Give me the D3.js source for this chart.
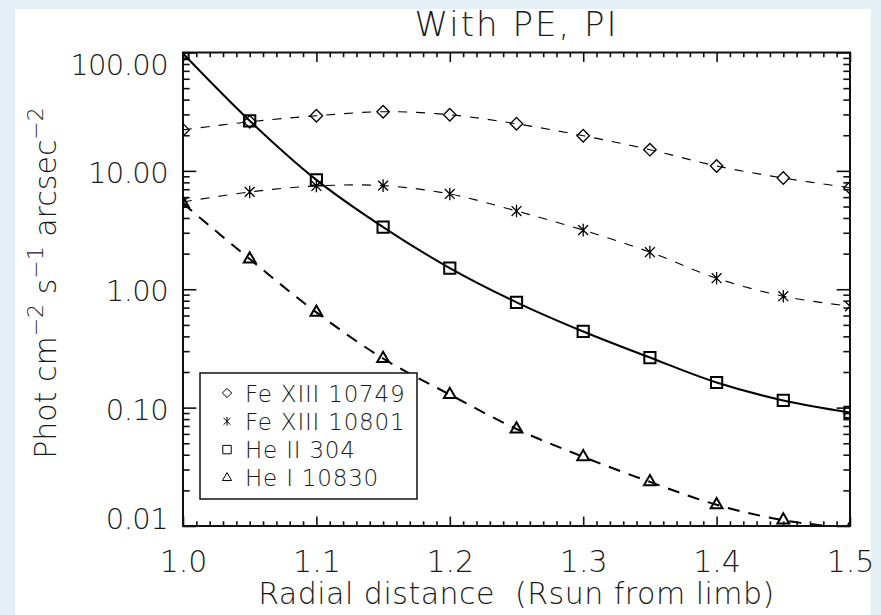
<!DOCTYPE html>
<html>
<head>
<meta charset="utf-8">
<script src="https://cdn.jsdelivr.net/npm/d3@7"></script>
<style>
  html, body { margin: 0; padding: 0; background: #e4eff6; }
  svg { display: block; }
  text { font-family: "DejaVu Sans", "Liberation Sans", sans-serif; font-weight: 200; fill: #1a1a1a; }
  .axis line { stroke: #111; stroke-width: 1.6; }
</style>
</head>
<body>
<svg id="chart" width="881" height="615"></svg>
<script>
// radial distance, Rsun from limb
var radius = [1.00, 1.05, 1.10, 1.15, 1.20, 1.25, 1.30, 1.35, 1.40, 1.45, 1.50];

// intensities, phot cm-2 s-1 arcsec-2
var feXIII10749 = [22.2, 26.0, 29.2, 31.6, 29.8, 25.0, 19.8, 15.1, 11.0, 8.7, 7.2];
var feXIII10801 = [5.46, 6.64, 7.46, 7.50, 6.38, 4.58, 3.16, 2.06, 1.24, 0.873, 0.718];
var heII304     = [98.0, 26.5, 8.39, 3.35, 1.51, 0.776, 0.44, 0.265, 0.163, 0.115, 0.091];
var heI10830    = [5.30, 1.80, 0.638, 0.26, 0.129, 0.066, 0.0384, 0.0236, 0.0151, 0.0112, 0.0095];

var seriesNames = ["Fe XIII 10749", "Fe XIII 10801", "He II 304", "He I 10830"];

var xTicks = [1.0, 1.1, 1.2, 1.3, 1.4, 1.5];
var yTicks = [0.01, 0.1, 1, 10, 100];

var svg = d3.select("#chart");

// white sheet on the light blue frame
svg.append("rect")
  .attr("x", 15).attr("y", 9)
  .attr("width", 856).attr("height", 606)
  .attr("fill", "#fff");

var pLeft = 183, pRight = 850, pTop = 52.5, pBottom = 526;

var x = d3.scaleLinear().domain([1.0, 1.5]).range([pLeft, pRight]);
var y = d3.scaleLog().domain([0.01, 100]).range([pBottom, pTop]);

var majX = (pBottom - pTop) * 0.02;  // idl style tick length
var majY = (pRight - pLeft) * 0.02;

// minor ticks
var xMinor = d3.range(0, 51).map(function(i) { return 1 + i * 0.01; })
  .filter(function(v) { return Math.abs(v * 10 - Math.round(v * 10)) > 1e-6; });
var yMinor = [];
[0.01, 0.1, 1, 10].forEach(function(d) {
  for (var k = 2; k <= 9; k++) yMinor.push(d * k);
});

function drawAxis(axis, tx, ty, labels) {
  var g = svg.append("g").attr("class", "axis")
    .attr("transform", "translate(" + tx + "," + ty + ")")
    .call(axis);
  g.select(".domain").remove();
  if (!labels) g.selectAll("text").remove();
  return g;
}

// minor
drawAxis(d3.axisBottom(x).tickValues(xMinor).tickSize(-majX / 2), 0, pBottom, false);
drawAxis(d3.axisTop(x).tickValues(xMinor).tickSize(-majX / 2), 0, pTop, false);
drawAxis(d3.axisLeft(y).tickValues(yMinor).tickSize(-majY / 2), pLeft, 0, false);
drawAxis(d3.axisRight(y).tickValues(yMinor).tickSize(-majY / 2), pRight, 0, false);

// major
var xAx = drawAxis(d3.axisBottom(x).tickValues(xTicks).tickSize(-majX)
  .tickFormat(d3.format(".1f")), 0, pBottom, true);
xAx.attr("font-size", 30).attr("font-family", null);
xAx.selectAll("text")
  .attr("fill", "#1a1a1a")
  .attr("dy", null)
  .attr("y", 46);
drawAxis(d3.axisTop(x).tickValues(xTicks).tickSize(-majX), 0, pTop, false);

var yAx = drawAxis(d3.axisLeft(y).tickValues(yTicks).tickSize(-majY).tickPadding(15)
  .tickFormat(d3.format(".2f")), pLeft, 0, true);
yAx.attr("font-size", 29).attr("font-family", null);
yAx.selectAll("text")
  .attr("fill", "#1a1a1a")
  .attr("letter-spacing", -0.6)
  .attr("dy", null)
  .attr("y", function(d) { return d >= 100 ? 22 : (d <= 0.01 ? 2.5 : 11.5); });
drawAxis(d3.axisRight(y).tickValues(yTicks).tickSize(-majY), pRight, 0, false);

// frame
svg.append("rect")
  .attr("x", pLeft).attr("y", pTop)
  .attr("width", pRight - pLeft).attr("height", pBottom - pTop)
  .attr("fill", "none").attr("stroke", "#111").attr("stroke-width", 2);

// plot contents
svg.append("clipPath").attr("id", "plotClip")
  .append("rect")
  .attr("x", pLeft).attr("y", pTop)
  .attr("width", pRight - pLeft).attr("height", pBottom - pTop);

var plot = svg.append("g").attr("clip-path", "url(#plotClip)");

// idl style asterisk: vertical stroke crossed by an X
var symbolStar = {
  draw: function(context, size) {
    var r = Math.sqrt(size) * 0.6;
    var d = r * 0.78;
    context.moveTo(0, -r); context.lineTo(0, r);
    context.moveTo(-d, -d); context.lineTo(d, d);
    context.moveTo(-d, d); context.lineTo(d, -d);
  }
};

var series = [
  { name: seriesNames[0], values: feXIII10749, sym: d3.symbolDiamond2, size: 100, dash: "9,9", w: 1.1, mw: 1.3 },
  { name: seriesNames[1], values: feXIII10801, sym: symbolStar, size: 110, dash: "9,9", w: 1.1, mw: 1.3 },
  { name: seriesNames[2], values: heII304, sym: d3.symbolSquare2, size: 160, dash: null, w: 2, mw: 2 },
  { name: seriesNames[3], values: heI10830, sym: d3.symbolTriangle2, size: 100, dash: "12,9", w: 2, mw: 2 }
];

var line = d3.line()
  .x(function(d, i) { return x(radius[i]); })
  .y(function(d) { return y(d); })
  .curve(d3.curveCatmullRom.alpha(0.5));

series.forEach(function(s) {
  plot.append("path")
    .attr("d", line(s.values))
    .attr("fill", "none")
    .attr("stroke", "#000")
    .attr("stroke-width", s.w)
    .attr("stroke-dasharray", s.dash);

  plot.selectAll(null)
    .data(s.values)
    .enter().append("path")
    .attr("transform", function(d, i) { return "translate(" + x(radius[i]) + "," + y(d) + ")"; })
    .attr("d", d3.symbol().type(s.sym).size(s.size))
    .attr("fill", "none")
    .attr("stroke", "#000")
    .attr("stroke-width", s.mw);
});

// legend
var legend = svg.append("g");
legend.append("rect")
  .attr("x", 200).attr("y", 373)
  .attr("width", 217).attr("height", 126)
  .attr("fill", "#fff").attr("stroke", "#111").attr("stroke-width", 1.5);

var legendSizes = [55, 55, 90, 60];
series.forEach(function(s, i) {
  var cy = 393 + i * 28.3;
  legend.append("path")
    .attr("transform", "translate(227," + cy + ")")
    .attr("d", d3.symbol().type(s.sym).size(legendSizes[i]))
    .attr("fill", "none").attr("stroke", "#000").attr("stroke-width", 1);
  legend.append("text")
    .attr("x", 245).attr("y", cy + 8.5)
    .attr("font-size", 23)
    .attr("letter-spacing", 0.8)
    .text(s.name);
});

// title
svg.append("text")
  .attr("x", (pLeft + pRight) / 2).attr("y", 36)
  .attr("text-anchor", "middle")
  .attr("font-size", 34)
  .attr("letter-spacing", 2)
  .text("With PE, PI");

// x title
svg.append("text")
  .attr("x", (pLeft + pRight) / 2).attr("y", 604)
  .attr("text-anchor", "middle")
  .attr("font-size", 30)
  .attr("letter-spacing", 0.5)
  .style("white-space", "pre")
  .text("Radial distance  (Rsun from limb)");

// y title with superscripts
var yt = svg.append("text")
  .attr("transform", "translate(43,283) rotate(-90)")
  .attr("text-anchor", "middle")
  .attr("font-size", 30)
  .style("white-space", "pre");
var parts = [["Phot cm", false], ["\u22122", true], [" s", false], ["\u22121", true], [" arcsec", false], ["\u22122", true]];
parts.forEach(function(p) {
  if (p[1]) {
    yt.append("tspan").attr("font-size", 22).attr("dy", -13).text(p[0]);
  } else {
    yt.append("tspan").attr("dy", yt.selectAll("tspan").size() ? 13 : 0).text(p[0]);
  }
});
</script>
</body>
</html>
